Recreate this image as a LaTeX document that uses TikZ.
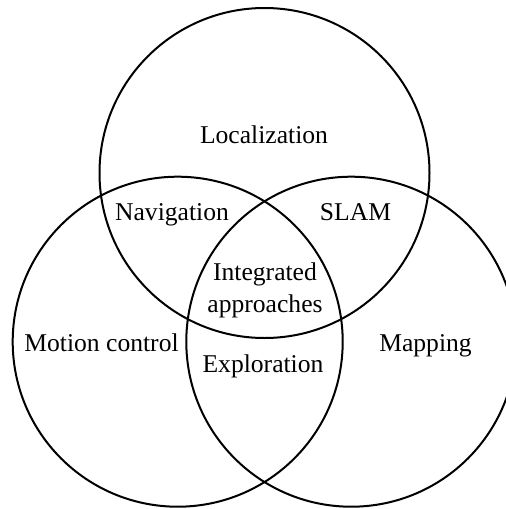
\documentclass[tikz,border=0pt]{standalone}
\usepackage{fontspec}
\setmainfont{Liberation Serif}
\usetikzlibrary{positioning}
\tikzset{
  set/.style={draw, circle, line width=1pt, minimum size=165pt, inner sep=0pt},
  lbl/.style={font=\fontsize{12.8}{16}\selectfont, inner sep=0pt, align=center}
}
\begin{document}
\begin{tikzpicture}[x=0.5pt, y=-0.5pt]
		\useasboundingbox (0,0) rectangle (506,509);
		\node[set] (L) at (264.5,173) {};
		\node[set] (C) at (177.7,341.7) {};
		\node[set] (M) at (351.3,341.7) {};
		\node[lbl, anchor=base] (Lt) at (264,143) {Localization};
		\node[lbl, anchor=base] (N) at (172,220) {Navigation};
		\node[lbl, anchor=base] (S) at (355.5,220) {SLAM};
		\node[lbl] (I) at (265,290) {Integrated\\approaches};
		\node[lbl, anchor=base] (Ct) at (101.5,351.5) {Motion control};
		\node[lbl, anchor=base] (Mt) at (425.5,351.5) {Mapping};
		\node[lbl, anchor=base] (E) at (263,372) {Exploration};
		\end{tikzpicture}
\end{document}
